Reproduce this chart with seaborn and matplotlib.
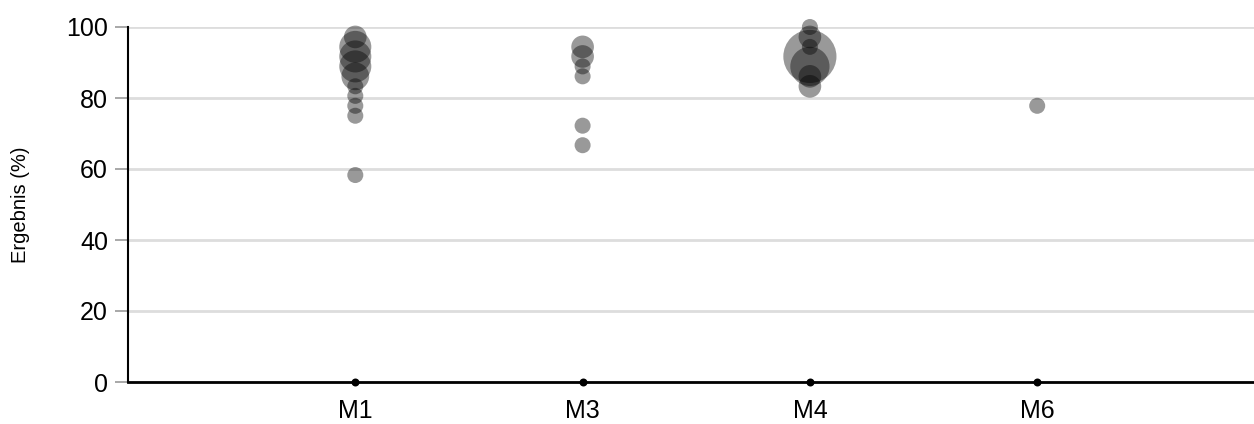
import matplotlib
matplotlib.use("Agg")
import matplotlib.pyplot as plt
import seaborn as sns
import pandas as pd

# Data: category, result (%), number of participants with that result
categories = ["M1", "M3", "M4", "M6"]
m1_values = [97.2, 94.4, 91.7, 88.9, 86.1, 83.3, 80.6, 77.8, 75.0, 58.3]
m1_counts = [2, 4, 4, 4, 3, 1, 1, 1, 1, 1]
m3_values = [94.4, 91.7, 88.9, 86.1, 72.2, 66.7]
m3_counts = [2, 2, 1, 1, 1, 1]
m4_values = [100.0, 97.2, 94.4, 91.7, 88.9, 86.1, 83.3]
m4_counts = [1, 2, 1, 11, 6, 2, 2]
m6_values = [77.8]
m6_counts = [1]
zero_values = [0, 0, 0, 0]
yticks = [0, 20, 40, 60, 80, 100]

rows = []
for cat, vals, cnts in zip(categories,
                           [m1_values, m3_values, m4_values, m6_values],
                           [m1_counts, m3_counts, m4_counts, m6_counts]):
    for v, c in zip(vals, cnts):
        rows.append({"Modul": cat, "Ergebnis": v, "Anzahl": c})
df = pd.DataFrame(rows)
df_zero = pd.DataFrame({"Modul": categories, "Ergebnis": zero_values})

sns.set_theme(style="white")
plt.rcParams["font.family"] = ["Liberation Sans", "DejaVu Sans"]

fig = plt.figure(figsize=(12.54, 4.24), dpi=100)
ax = fig.add_axes([128 / 1254, 1 - 382 / 424, 1 - 128 / 1254, (382 - 27) / 424])

base = 133.0
sns.scatterplot(data=df, x="Modul", y="Ergebnis", size="Anzahl",
                sizes=(base, 11 * base), size_norm=(1, 11),
                color="black", alpha=0.4, linewidth=0, legend=False,
                ax=ax, clip_on=False, zorder=3)
sns.scatterplot(data=df_zero, x="Modul", y="Ergebnis", color="black",
                s=33, linewidth=0, legend=False, ax=ax, clip_on=False, zorder=4)

ax.set_xlim(-1, 1126 / 227.3 - 1)
ax.set_ylim(0, 100)
ax.set_yticks(yticks)
ax.set_yticklabels([str(t) for t in yticks])
ax.yaxis.grid(True, color="#dddddd", linewidth=2)
ax.xaxis.grid(False)
ax.set_axisbelow(True)

for side in ["top", "right"]:
    ax.spines[side].set_visible(False)
ax.spines["left"].set_color("black")
ax.spines["left"].set_linewidth(1.5)
ax.spines["bottom"].set_color("black")
ax.spines["bottom"].set_linewidth(2)
ax.spines["bottom"].set_zorder(3.5)

ax.tick_params(axis="y", which="both", left=True, length=9.4, width=1.2,
               color="#999999", pad=5, labelsize=18, labelcolor="black")
ax.tick_params(axis="x", which="both", bottom=False, length=0, pad=12,
               labelsize=18, labelcolor="black")

ax.set_xlabel("")
ax.set_ylabel("Ergebnis (%)", fontsize=14.5, color="black")
ax.yaxis.set_label_coords((30 - 128) / 1126, 0.5)

fig.savefig("out.png", dpi=100)
